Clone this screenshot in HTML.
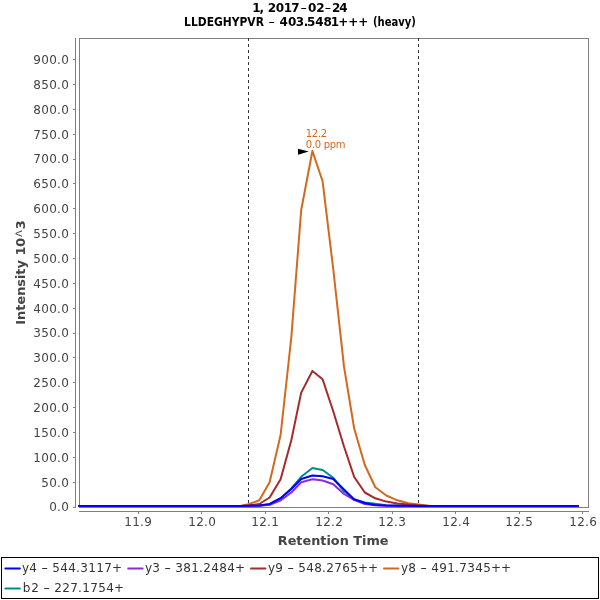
<!DOCTYPE html>
<html><head><meta charset="utf-8"><title>Chromatogram</title>
<style>html,body{margin:0;padding:0;background:#fff;width:600px;height:600px;overflow:hidden}svg{display:block;will-change:transform}</style>
</head><body>
<svg width="600" height="600" viewBox="0 0 600 600">
<rect width="600" height="600" fill="#fff"/>
<g font-family="DejaVu Sans, Liberation Sans, sans-serif" font-weight="bold" font-size="12" fill="#000">
<text x="252.33 259.57 264.13 267.73 275.63 283.73 291.23 300.2 308.03 316.18 324.45 331.88 339.33" y="12">1, 2017<tspan font-weight="normal" textLength="6.85" lengthAdjust="spacingAndGlyphs">-</tspan>02<tspan font-weight="normal" textLength="6.85" lengthAdjust="spacingAndGlyphs">-</tspan>24</text>
<text x="184.1" y="26" textLength="79.8" lengthAdjust="spacingAndGlyphs">LLDEGHYPVR</text>
<text x="268.2" y="26" font-weight="normal" textLength="6.85" lengthAdjust="spacingAndGlyphs">-</text>
<text x="279.58 288.08 295.83 303.72 307.08 315.33 323.58 330.63 338.32 348.32 358.32" y="26">403.5481+++</text>
<text x="372.9" y="26" textLength="43" lengthAdjust="spacingAndGlyphs">(heavy)</text>
</g>
<rect x="79.5" y="38.5" width="509" height="469" fill="none" stroke="#808080" stroke-width="1" shape-rendering="crispEdges"/>
<g stroke="#808080" stroke-width="1" shape-rendering="crispEdges">
<line x1="75.5" y1="38" x2="75.5" y2="508"/>
<line x1="73" y1="507.5" x2="75" y2="507.5"/>
<line x1="73" y1="482.5" x2="75" y2="482.5"/>
<line x1="73" y1="457.5" x2="75" y2="457.5"/>
<line x1="73" y1="432.5" x2="75" y2="432.5"/>
<line x1="73" y1="407.5" x2="75" y2="407.5"/>
<line x1="73" y1="382.5" x2="75" y2="382.5"/>
<line x1="73" y1="357.5" x2="75" y2="357.5"/>
<line x1="73" y1="333.5" x2="75" y2="333.5"/>
<line x1="73" y1="308.5" x2="75" y2="308.5"/>
<line x1="73" y1="283.5" x2="75" y2="283.5"/>
<line x1="73" y1="258.5" x2="75" y2="258.5"/>
<line x1="73" y1="233.5" x2="75" y2="233.5"/>
<line x1="73" y1="208.5" x2="75" y2="208.5"/>
<line x1="73" y1="183.5" x2="75" y2="183.5"/>
<line x1="73" y1="159.5" x2="75" y2="159.5"/>
<line x1="73" y1="134.5" x2="75" y2="134.5"/>
<line x1="73" y1="109.5" x2="75" y2="109.5"/>
<line x1="73" y1="84.5" x2="75" y2="84.5"/>
<line x1="73" y1="59.5" x2="75" y2="59.5"/>
<line x1="79" y1="511.5" x2="589" y2="511.5"/>
<line x1="138.5" y1="512" x2="138.5" y2="514"/>
<line x1="201.5" y1="512" x2="201.5" y2="514"/>
<line x1="265.5" y1="512" x2="265.5" y2="514"/>
<line x1="328.5" y1="512" x2="328.5" y2="514"/>
<line x1="392.5" y1="512" x2="392.5" y2="514"/>
<line x1="455.5" y1="512" x2="455.5" y2="514"/>
<line x1="519.5" y1="512" x2="519.5" y2="514"/>
<line x1="582.5" y1="512" x2="582.5" y2="514"/>
</g>
<g font-family="DejaVu Sans, Liberation Sans, sans-serif" font-size="12" fill="#444">
<text x="49.18 57.09 61.18" y="511">0.0</text>
<text x="41.18 49.18 57.09 61.18" y="487">50.0</text>
<text x="33.18 41.18 49.18 57.09 61.18" y="462">100.0</text>
<text x="33.18 41.18 49.18 57.09 61.18" y="437">150.0</text>
<text x="33.18 41.18 49.18 57.09 61.18" y="412">200.0</text>
<text x="33.18 41.18 49.18 57.09 61.18" y="387">250.0</text>
<text x="33.18 41.18 49.18 57.09 61.18" y="362">300.0</text>
<text x="33.18 41.18 49.18 57.09 61.18" y="337">350.0</text>
<text x="33.18 41.18 49.18 57.09 61.18" y="313">400.0</text>
<text x="33.18 41.18 49.18 57.09 61.18" y="288">450.0</text>
<text x="33.18 41.18 49.18 57.09 61.18" y="263">500.0</text>
<text x="33.18 41.18 49.18 57.09 61.18" y="238">550.0</text>
<text x="33.18 41.18 49.18 57.09 61.18" y="213">600.0</text>
<text x="33.18 41.18 49.18 57.09 61.18" y="188">650.0</text>
<text x="33.18 41.18 49.18 57.09 61.18" y="163">700.0</text>
<text x="33.18 41.18 49.18 57.09 61.18" y="139">750.0</text>
<text x="33.18 41.18 49.18 57.09 61.18" y="114">800.0</text>
<text x="33.18 41.18 49.18 57.09 61.18" y="89">850.0</text>
<text x="33.18 41.18 49.18 57.09 61.18" y="64">900.0</text>
<text x="124.18 132.18 140.09 144.18" y="526">11.9</text>
<text x="188.18 196.18 204.09 208.18" y="526">12.0</text>
<text x="251.18 259.18 267.09 271.18" y="526">12.1</text>
<text x="315.18 323.18 331.09 335.18" y="526">12.2</text>
<text x="378.18 386.18 394.09 398.18" y="526">12.3</text>
<text x="442.18 450.18 458.09 462.18" y="526">12.4</text>
<text x="505.18 513.18 521.09 525.18" y="526">12.5</text>
<text x="569.18 577.18 585.09 589.18" y="526">12.6</text>
</g>
<g font-family="DejaVu Sans, Liberation Sans, sans-serif" font-weight="bold" font-size="13" fill="#444">
<text x="277.8" y="544.5" textLength="110.7" lengthAdjust="spacingAndGlyphs">Retention Time</text>
<text transform="translate(25,324.7) rotate(-90)" x="0" y="0" textLength="104.3" lengthAdjust="spacingAndGlyphs">Intensity 10<tspan font-family="Liberation Mono, monospace" font-weight="normal" font-size="14">^</tspan>3</text>
</g>
<g stroke="#333" stroke-width="1" stroke-dasharray="3,3" shape-rendering="crispEdges">
<line x1="248.5" y1="38" x2="248.5" y2="507"/>
<line x1="418.5" y1="38" x2="418.5" y2="507"/>
</g>
<g fill="none" stroke-width="2" stroke-linejoin="round" stroke-linecap="round">
<path d="M79.0,505.9 L240.5,505.9 L248.5,505.8 L259.3,505.5 L269.6,504.5 L280.6,498.5 L291.3,488.5 L301.2,476.8 L312.4,468.0 L322.6,470.0 L333.3,477.8 L344.0,491.3 L354.2,499.3 L364.8,502.5 L375.3,503.8 L386.3,505.2 L397.3,505.6 L408.3,505.8 L418.5,505.9 L430.0,505.9 L577.9,505.9" stroke="#008b8b"/>
<path d="M79.0,505.9 L240.5,505.9 L248.5,504.3 L259.3,500.3 L269.6,482.2 L280.6,435.0 L291.3,337.5 L301.2,210.0 L312.4,151.0 L322.6,181.3 L333.3,269.5 L344.0,366.7 L354.2,428.5 L364.8,465.0 L375.3,487.3 L386.3,495.5 L397.3,500.3 L408.3,503.3 L418.5,504.5 L430.0,505.9 L577.9,505.9" stroke="#d2691e"/>
<path d="M79.0,505.9 L240.5,505.9 L248.5,505.5 L259.3,504.0 L269.6,497.5 L280.6,479.2 L291.3,440.3 L301.2,392.6 L312.4,371.0 L322.6,379.2 L333.3,411.5 L344.0,446.5 L354.2,477.0 L364.8,492.5 L375.3,498.3 L386.3,501.6 L397.3,503.5 L408.3,504.5 L418.5,505.2 L430.0,505.9 L577.9,505.9" stroke="#a52a2a"/>
<path d="M79.0,505.9 L240.5,505.9 L248.5,505.9 L259.3,505.8 L269.6,504.8 L280.6,500.5 L291.3,492.5 L301.2,482.2 L312.4,479.3 L322.6,480.5 L333.3,484.2 L344.0,494.0 L354.2,499.8 L364.8,504.0 L375.3,505.3 L386.3,505.7 L397.3,505.8 L408.3,505.9 L418.5,505.9 L430.0,505.9 L577.9,505.9" stroke="#8a2be2"/>
<path d="M79.0,505.9 L240.5,505.9 L248.5,505.8 L259.3,505.5 L269.6,504.0 L280.6,498.2 L291.3,489.0 L301.2,479.0 L312.4,475.5 L322.6,476.2 L333.3,479.0 L344.0,489.5 L354.2,499.5 L364.8,503.0 L375.3,505.0 L386.3,505.5 L397.3,505.7 L408.3,505.8 L418.5,505.9 L430.0,505.9 L577.9,505.9" stroke="#0000ff"/>
</g>
<path d="M298,148.7 L308.8,151.6 L298,154.8 Z" fill="#000"/>
<g font-family="DejaVu Sans, Liberation Sans, sans-serif" font-size="10" fill="#d2691e">
<text x="305.82 311.82 317.91 320.82" y="136.8">12.2</text>
<text x="305.82 311.91 314.82 320.91 323.83 329.83 335.63" y="147.6">0.0 ppm</text>
</g>
<rect x="1.5" y="557.5" width="597" height="41" fill="none" stroke="#000" stroke-width="1" shape-rendering="crispEdges"/>
<g stroke-width="2" stroke-linecap="round">
<line x1="5.4" y1="568.5" x2="19.8" y2="568.5" stroke="#0000ff"/>
<line x1="128.2" y1="568.5" x2="142.6" y2="568.5" stroke="#8a2be2"/>
<line x1="251.0" y1="568.5" x2="265.4" y2="568.5" stroke="#a52a2a"/>
<line x1="384.0" y1="568.5" x2="398.4" y2="568.5" stroke="#d2691e"/>
<line x1="5.4" y1="588.5" x2="19.8" y2="588.5" stroke="#008b8b"/>
</g>
<g font-family="DejaVu Sans, Liberation Sans, sans-serif" font-size="12" fill="#333">
<text x="21.95 29.18 37.09 41.20 48.09 52.18 60.18 68.18 76.09 80.18 88.18 96.18 104.18 111.97" y="572">y4 <tspan textLength="6.85" lengthAdjust="spacingAndGlyphs">-</tspan> 544.3117+</text>
<text x="144.95 152.18 160.09 164.20 171.09 175.18 183.18 191.18 199.09 203.18 211.18 219.18 227.18 234.97" y="572">y3 <tspan textLength="6.85" lengthAdjust="spacingAndGlyphs">-</tspan> 381.2484+</text>
<text x="267.95 275.18 283.09 287.20 294.09 298.18 306.18 314.18 322.09 326.18 334.18 342.18 350.18 357.97 367.97" y="572">y9 <tspan textLength="6.85" lengthAdjust="spacingAndGlyphs">-</tspan> 548.2765++</text>
<text x="400.95 408.18 416.09 420.20 427.09 431.18 439.18 447.18 455.09 459.18 467.18 475.18 483.18 490.97 500.97" y="572">y8 <tspan textLength="6.85" lengthAdjust="spacingAndGlyphs">-</tspan> 491.7345++</text>
<text x="22.69 31.18 39.09 43.20 50.09 54.18 62.18 70.18 78.09 82.18 90.18 98.18 106.18 113.97" y="592">b2 <tspan textLength="6.85" lengthAdjust="spacingAndGlyphs">-</tspan> 227.1754+</text>
</g>
</svg>
</body></html>
